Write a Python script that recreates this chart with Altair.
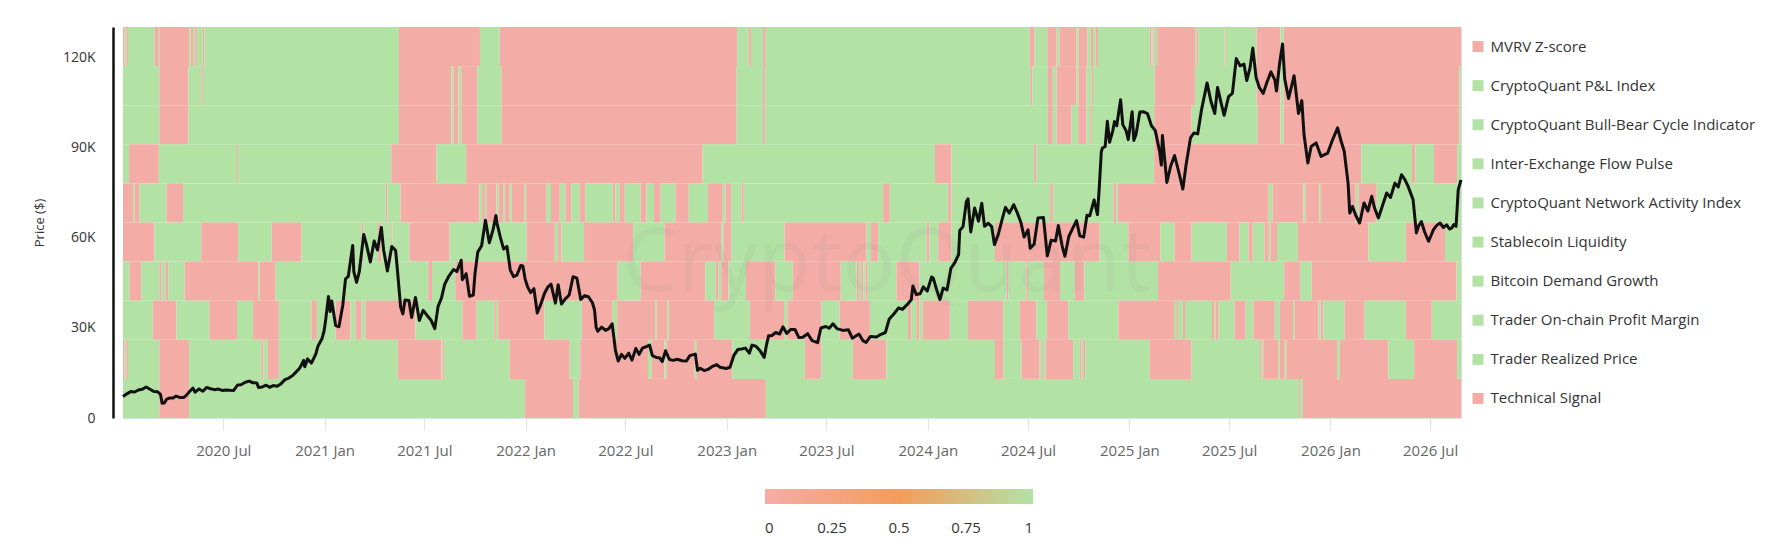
import altair as alt
import pandas as pd

# ---------------- data ----------------
DAY0 = "2020-01-01"          # first day of the series
END_DAY = 2429               # last day offset (2026-08-26)

ROWS = [
    "MVRV Z-score",
    "CryptoQuant P&L Index",
    "CryptoQuant Bull-Bear Cycle Indicator",
    "Inter-Exchange Flow Pulse",
    "CryptoQuant Network Activity Index",
    "Stablecoin Liquidity",
    "Bitcoin Demand Growth",
    "Trader On-chain Profit Margin",
    "Trader Realized Price",
    "Technical Signal",
]

# runs: (start day offset from DAY0, signal value 0=bearish / 1=bullish)
MVRV = [(0,0),(3,1),(6,0),(9,1),(57,0),(65,1),(67,0),(120,1),(123,0),(127,1),(130,0),(134,1),
        (145,0),(148,1),(501,0),(648,1),(684,0),(1115,1),(1136,0),(1140,1),(1162,0),(1167,1),
        (1646,0),(1655,1),(1678,0),(1695,1),(1700,0),(1731,1),(1735,0),(1751,1),(1757,0),(1761,1),
        (1766,0),(1770,1),(1864,0),(1867,1),(1869,0),(1871,1),(1875,0),(1877,1),(1879,0),(1946,1),
        (1949,0),(1952,1),(2000,0),(2002,1),(2058,0),(2101,1),(2107,0)]
PNL = [(0,1),(66,0),(119,1),(142,0),(145,1),(501,0),(596,1),(600,0),(609,1),(614,0),(643,1),(687,0),
       (1114,1),(1162,0),(1166,1),(1647,0),(1651,1),(1679,0),(1688,1),(1695,0),(1731,1),(1735,0),
       (1749,1),(1758,0),(1761,1),(1873,0),(1946,1),(2058,0),(2101,1),(2107,0),(2426,1)]
BULL_BEAR = [(0,1),(66,0),(119,1),(501,0),(596,1),(600,0),(609,1),(614,0),(643,1),(687,0),(1114,1),
             (1162,0),(1166,1),(1679,0),(1688,1),(1695,0),(1722,1),(1734,0),(1749,1),(1756,0),(1759,1),
             (1872,0),(1940,1),(2060,0),(2101,1),(2107,0),(2426,1)]
FLOW_PULSE = [(0,1),(11,0),(65,1),(207,0),(209,1),(487,0),(569,1),(623,0),(1052,1),(1474,0),(1504,1),
              (1654,0),(1658,1),(1872,0),(2248,1),(2340,0),(2346,1),(2380,0),(2422,1)]
NETWORK = [(0,0),(18,1),(21,0),(30,1),(79,0),(109,1),(477,0),(480,1),(504,0),(647,1),(652,0),(657,1),
           (660,0),(678,1),(682,0),(690,1),(693,0),(702,1),(706,0),(729,1),(732,0),(768,1),(777,0),
           (793,1),(803,0),(814,1),(829,0),(839,1),(889,0),(894,1),(902,0),(911,1),(940,0),(950,1),
           (964,0),(976,1),(1003,0),(1027,1),(1062,0),(1089,1),(1094,0),(1104,1),(1123,0),(1127,1),
           (1380,0),(1392,1),(1498,0),(1504,1),(1683,0),(1688,1),(1798,0),(1803,1),(1806,0),(2080,1),
           (2087,0),(2143,1),(2147,0),(2172,1),(2175,0),(2238,1),(2243,0),(2276,1)]
STABLECOIN = [(0,0),(57,1),(142,0),(209,1),(270,0),(324,1),(433,0),(436,1),(463,0),(469,1),(487,0),
              (489,1),(520,0),(593,1),(733,0),(784,1),(790,0),(796,1),(837,0),(926,1),(983,0),(1086,1),
              (1090,0),(1104,1),(1201,0),(1350,1),(1358,0),(1371,1),(1459,0),(1464,1),(1480,0),(1504,1),
              (1583,0),(1773,1),(1825,0),(1883,1),(1909,0),(1940,1),(2004,0),(2027,1),(2043,0),(2051,1),
              (2072,0),(2080,1),(2083,0),(2095,1),(2133,0),(2261,1),(2329,0),(2400,1)]
DEMAND = [(0,1),(12,0),(33,1),(66,0),(70,1),(77,0),(82,1),(112,0),(245,1),(248,0),(277,1),(554,0),
          (561,1),(603,0),(898,1),(940,0),(1057,1),(1076,0),(1081,1),(1086,0),(1099,1),(1131,0),
          (1184,1),(1216,0),(1303,1),(1332,0),(1336,1),(1340,0),(1344,1),(1348,0),(1352,1),(1404,0),
          (1446,1),(1604,0),(1607,1),(1640,0),(1643,1),(1672,0),(1701,1),(1728,0),(1745,1),(1879,0),
          (2011,1),(2108,0),(2137,1),(2158,0),(2421,1)]
PROFIT_MARGIN = [(0,1),(54,0),(97,1),(157,0),(207,1),(236,0),(283,1),(342,0),(352,1),(386,0),(413,1),
                 (422,0),(433,1),(440,0),(531,1),(616,0),(642,1),(674,0),(677,1),(681,0),(765,1),
                 (833,0),(888,1),(897,0),(966,1),(969,0),(988,1),(991,0),(1073,1),(1138,0),(1200,1),
                 (1206,0),(1268,1),(1301,0),(1356,1),(1425,0),(1431,1),(1440,0),(1446,1),(1452,0),
                 (1501,1),(1534,0),(1598,1),(1628,0),(1658,1),(1677,0),(1716,1),(1807,0),(1908,1),
                 (1912,0),(1915,1),(1924,0),(1928,1),(1977,0),(1981,1),(1983,0),(1989,1),(2018,0),
                 (2038,1),(2052,0),(2091,1),(2100,0),(2124,1),(2127,0),(2170,1),(2174,0),(2179,1),
                 (2218,0),(2254,1),(2329,0),(2376,1)]
REALIZED = [(0,0),(3,1),(6,0),(9,1),(66,0),(120,1),(251,0),(255,1),(263,0),(283,1),(499,0),(578,1),
            (580,0),(583,1),(702,0),(811,1),(830,0),(953,1),(960,0),(983,1),(987,0),(1038,1),(1042,0),
            (1106,1),(1238,0),(1268,1),(1325,0),(1386,1),(1583,0),(1598,1),(1631,0),(1664,1),(1668,0),
            (1670,1),(1675,0),(1725,1),(1737,0),(1740,1),(1743,0),(1747,1),(1864,0),(1940,1),(2064,0),
            (2067,1),(2070,0),(2097,1),(2100,0),(2109,1),(2112,0),(2204,1),(2209,0),(2297,1),(2344,0),
            (2422,1)]
TECHNICAL = [(0,1),(66,0),(120,1),(730,0),(817,1),(827,0),(1167,1),(2135,0),(2137,1),(2142,0)]

ALL_RUNS = [MVRV, PNL, BULL_BEAR, FLOW_PULSE, NETWORK, STABLECOIN, DEMAND, PROFIT_MARGIN, REALIZED, TECHNICAL]

PRICE_2020 = [("2020-01-01",7200),("2020-01-08",8050),("2020-01-15",8800),("2020-01-22",8650),("2020-01-29",9350),
    ("2020-02-05",9600),("2020-02-12",10350),("2020-02-19",9600),("2020-02-26",8800),("2020-03-04",8750),
    ("2020-03-09",7900),("2020-03-12",4950),("2020-03-16",5000),("2020-03-20",6200),("2020-03-26",6700),
    ("2020-04-01",6650),("2020-04-06",7300),("2020-04-13",6850),("2020-04-20",6850),("2020-04-25",7550),
    ("2020-04-30",8650),("2020-05-07",9950),("2020-05-11",8600),("2020-05-18",9700),("2020-05-25",8900),
    ("2020-06-01",10200),("2020-06-08",9750),("2020-06-15",9450),("2020-06-22",9650),("2020-06-29",9200),
    ("2020-07-06",9350),("2020-07-13",9250),("2020-07-20",9200),("2020-07-27",11000),("2020-08-02",11100),
    ("2020-08-10",11900),("2020-08-17",12300),("2020-08-24",11750),("2020-08-31",11700),("2020-09-03",10200),
    ("2020-09-10",10350),("2020-09-17",10950),("2020-09-23",10250),("2020-09-30",10800),("2020-10-07",10600),
    ("2020-10-14",11450),("2020-10-21",12800),("2020-10-28",13300),("2020-11-04",14150),("2020-11-10",15300),
    ("2020-11-17",16700),("2020-11-24",19200),("2020-11-26",17100),("2020-12-01",19700),("2020-12-08",18300),
    ("2020-12-16",21300),("2020-12-20",24000),("2020-12-27",26300),("2020-12-31",29000)]
PRICE_2021 = [("2021-01-03",32800),("2021-01-08",40500),("2021-01-11",35500),("2021-01-14",39000),("2021-01-21",30800),
    ("2021-01-27",30400),("2021-02-03",37600),("2021-02-08",46400),("2021-02-13",47200),("2021-02-21",57500),
    ("2021-02-23",48800),("2021-02-28",45200),("2021-03-05",48800),("2021-03-13",61200),("2021-03-18",57800),
    ("2021-03-25",52000),("2021-04-01",59000),("2021-04-07",56000),("2021-04-14",63500),("2021-04-18",56200),
    ("2021-04-25",49000),("2021-05-03",57200),("2021-05-10",55800),("2021-05-13",49700),("2021-05-19",37000),
    ("2021-05-23",34700),("2021-05-27",39300),("2021-06-03",39200),("2021-06-08",33500),("2021-06-15",40200),
    ("2021-06-22",32500),("2021-06-29",35900),("2021-07-06",34200),("2021-07-13",32700),("2021-07-20",29800),
    ("2021-07-26",37200),("2021-08-01",39900),("2021-08-07",44600),("2021-08-14",47100),("2021-08-23",49500),
    ("2021-08-29",48800),("2021-09-06",52600),("2021-09-08",46100),("2021-09-15",48100),("2021-09-21",40600),
    ("2021-09-28",41000),("2021-10-01",48100),("2021-10-06",55300),("2021-10-13",57400),("2021-10-20",65900),
    ("2021-10-27",58400),("2021-11-03",62900),("2021-11-08",67500),("2021-11-10",64900),("2021-11-16",60300),
    ("2021-11-22",56300),("2021-11-28",57200),("2021-12-04",49400),("2021-12-10",47100),("2021-12-16",47600),
    ("2021-12-23",50800),("2021-12-27",50700),("2021-12-31",46300)]
PRICE_2022 = [("2022-01-05",43500),("2022-01-10",41800),("2022-01-16",43100),("2022-01-22",35000),("2022-01-28",37700),
    ("2022-02-04",41500),("2022-02-10",43600),("2022-02-16",44600),("2022-02-24",38300),("2022-03-01",44400),
    ("2022-03-07",38000),("2022-03-14",39700),("2022-03-21",41000),("2022-03-28",47100),("2022-04-04",46600),
    ("2022-04-11",39500),("2022-04-18",40800),("2022-04-25",40400),("2022-05-02",38500),("2022-05-06",36000),
    ("2022-05-09",30100),("2022-05-12",28900),("2022-05-19",30300),("2022-05-26",29200),("2022-06-01",29800),
    ("2022-06-07",31400),("2022-06-13",22500),("2022-06-18",19000),("2022-06-24",21200),("2022-06-30",19900),
    ("2022-07-07",21600),("2022-07-13",19300),("2022-07-20",23200),("2022-07-26",21200),("2022-08-01",23300),
    ("2022-08-08",23800),("2022-08-14",24300),("2022-08-19",20800),("2022-08-26",20200),("2022-09-01",20100),
    ("2022-09-06",18800),("2022-09-12",22400),("2022-09-19",19500),("2022-09-26",19200),("2022-10-03",19600),
    ("2022-10-12",19100),("2022-10-20",19000),("2022-10-26",20800),("2022-11-05",21300),("2022-11-09",15900),
    ("2022-11-14",16600),("2022-11-21",15800),("2022-11-28",16200),("2022-12-05",17100),("2022-12-14",17800),
    ("2022-12-20",16900),("2022-12-31",16500)]
PRICE_2023 = [("2023-01-07",16900),("2023-01-14",20900),("2023-01-21",22800),("2023-01-28",23000),("2023-02-04",23300),
    ("2023-02-11",21600),("2023-02-16",24300),("2023-02-23",23900),("2023-03-03",22300),("2023-03-10",20200),
    ("2023-03-14",24200),("2023-03-18",27400),("2023-03-24",27500),("2023-03-31",28500),("2023-04-07",28000),
    ("2023-04-13",30400),("2023-04-20",28200),("2023-04-27",29500),("2023-05-05",29500),("2023-05-12",26800),
    ("2023-05-19",26900),("2023-05-28",28100),("2023-06-05",25800),("2023-06-15",25100),("2023-06-21",30000),
    ("2023-06-30",30500),("2023-07-06",29900),("2023-07-13",31400),("2023-07-20",29800),("2023-07-31",29200),
    ("2023-08-10",29400),("2023-08-17",26600),("2023-08-29",28000),("2023-09-05",25800),("2023-09-11",25200),
    ("2023-09-19",27200),("2023-09-30",27000),("2023-10-08",27900),("2023-10-16",28500),("2023-10-23",33000),
    ("2023-10-31",34600),("2023-11-09",36700),("2023-11-16",36200),("2023-11-24",37700),("2023-12-02",39400),
    ("2023-12-05",44000),("2023-12-11",41200),("2023-12-18",41400),("2023-12-24",43700),("2023-12-31",42300)]
PRICE_2024 = [("2024-01-08",47000),("2024-01-11",46600),("2024-01-17",42800),("2024-01-23",39500),("2024-01-29",43300),
    ("2024-02-05",42700),("2024-02-12",49900),("2024-02-19",51800),("2024-02-26",54500),("2024-02-28",62500),
    ("2024-03-05",63800),("2024-03-11",72100),("2024-03-14",73100),("2024-03-19",62000),("2024-03-26",70000),
    ("2024-04-02",65600),("2024-04-08",71600),("2024-04-13",63900),("2024-04-20",64900),("2024-04-26",63800),
    ("2024-05-01",57800),("2024-05-08",61200),("2024-05-15",66200),("2024-05-21",70200),("2024-05-28",68300),
    ("2024-06-05",71100),("2024-06-12",68200),("2024-06-18",65200),("2024-06-24",60300),("2024-07-01",62700),
    ("2024-07-05",56600),("2024-07-12",57900),("2024-07-19",66700),("2024-07-29",66800),("2024-08-05",54000),
    ("2024-08-12",59300),("2024-08-20",59000),("2024-08-25",64200),("2024-09-01",57300),("2024-09-06",53900),
    ("2024-09-13",60500),("2024-09-20",63200),("2024-09-27",65800),("2024-10-03",60700),("2024-10-10",60300),
    ("2024-10-16",67600),("2024-10-21",67400),("2024-10-29",72700),("2024-11-04",67800),("2024-11-07",75900),
    ("2024-11-11",88700),("2024-11-13",90000),("2024-11-18",90500),("2024-11-22",98900),("2024-11-26",91900),
    ("2024-12-02",95900),("2024-12-05",98800),("2024-12-09",97400),("2024-12-16",106100),("2024-12-20",97800),
    ("2024-12-26",95800),("2024-12-30",92800)]
PRICE_2025 = [("2025-01-06",102100),("2025-01-09",92500),("2025-01-13",94500),("2025-01-20",102000),("2025-01-27",102100),
    ("2025-02-03",101400),("2025-02-10",97400),("2025-02-17",95800),("2025-02-25",88700),("2025-02-28",84300),
    ("2025-03-02",94200),("2025-03-10",78500),("2025-03-17",84000),("2025-03-24",87500),("2025-03-31",82500),
    ("2025-04-08",76300),("2025-04-14",84500),("2025-04-22",93400),("2025-04-28",95000),("2025-05-05",94700),
    ("2025-05-12",102800),("2025-05-22",111700),("2025-05-29",105600),("2025-06-05",101500),("2025-06-10",110200),
    ("2025-06-17",104600),("2025-06-22",100900),("2025-06-30",107100),("2025-07-07",108200),("2025-07-14",119800),
    ("2025-07-21",117400),("2025-07-28",118000),("2025-08-02",112500),("2025-08-08",116700),("2025-08-13",123300),
    ("2025-08-19",113500),("2025-08-25",110100),("2025-09-01",108200),("2025-09-08",112100),("2025-09-15",115400),
    ("2025-09-22",112700),("2025-09-25",109000),("2025-10-01",118600),("2025-10-06",124700),("2025-10-10",113000),
    ("2025-10-17",106500),("2025-10-27",114100),("2025-11-04",101500),("2025-11-10",105800),("2025-11-14",94500),
    ("2025-11-21",85000),("2025-11-27",90500),("2025-12-06",91700),("2025-12-15",87200),("2025-12-27",88300)]
PRICE_2026 = [("2026-01-05",92800),("2026-01-14",96700),("2026-01-20",92500),("2026-01-26",88900),("2026-02-02",78300),
    ("2026-02-05",68300),("2026-02-10",70500),("2026-02-16",67500),("2026-02-23",65000),("2026-03-03",71700),
    ("2026-03-10",69000),("2026-03-17",73900),("2026-03-22",70000),("2026-03-29",66700),("2026-04-05",70500),
    ("2026-04-13",75000),("2026-04-20",73500),("2026-04-28",78300),("2026-05-04",77000),("2026-05-10",81100),
    ("2026-05-16",79500),("2026-05-22",77200),("2026-05-31",72800),("2026-06-06",61700),("2026-06-10",64000),
    ("2026-06-15",65500),("2026-06-21",62000),("2026-06-28",58900),("2026-07-03",61000),("2026-07-07",62800),
    ("2026-07-13",64200),("2026-07-19",65000),("2026-07-25",63500),("2026-07-31",64400),("2026-08-05",63000),
    ("2026-08-09",63300),("2026-08-13",64500),("2026-08-17",63900),("2026-08-21",76100),("2026-08-26",79400)]

PRICE_TICKS = [0, 30000, 60000, 90000, 120000]
PRICE_MAX = 130333
LEGEND_VALUES = [0, 0.25, 0.5, 0.75, 1]
WATERMARK = [{"date": "2023-10-19", "price": 51000, "text": "CryptoQuant"}]

# ---------------- tables ----------------
base = pd.Timestamp(DAY0)
cells = []
for name, runs in zip(ROWS, ALL_RUNS):
    for i, (d, v) in enumerate(runs):
        e = runs[i + 1][0] if i + 1 < len(runs) else END_DAY
        cells.append({
            "row": name,
            "start": (base + pd.Timedelta(days=d)).strftime("%Y-%m-%d"),
            "end": (base + pd.Timedelta(days=e)).strftime("%Y-%m-%d"),
            "value": v,
        })
cells = pd.DataFrame(cells)
latest = pd.DataFrame([{"row": n, "value": r[-1][1]} for n, r in zip(ROWS, ALL_RUNS)])
price = pd.DataFrame(PRICE_2020 + PRICE_2021 + PRICE_2022 + PRICE_2023 + PRICE_2024 + PRICE_2025 + PRICE_2026,
                     columns=["date", "price"])
mark_df = pd.DataFrame(WATERMARK)

# ---------------- scales / axes ----------------
W, H = 1338, 391
FONT = "Open Sans"

end_ts = base + pd.Timedelta(days=END_DAY)
x_scale = alt.Scale(type="utc", domain=[alt.DateTime(year=2020, month=1, date=1, utc=True),
                                        alt.DateTime(year=end_ts.year, month=end_ts.month, date=end_ts.day, utc=True)])
x_ticks = []
for y in range(2020, 2027):
    for m in (1, 7):
        if (y, m) >= (2020, 7):
            x_ticks.append(alt.DateTime(year=y, month=m, date=1, utc=True))
x_axis = alt.Axis(values=x_ticks, format="%Y %b", title=None, grid=False,
                  labelColor="#666666", labelFontSize=15, labelFont=FONT, labelPadding=13,
                  tickColor="#e3e3e3", tickSize=12, tickWidth=1.2,
                  domainColor="#e3e3e3", domainWidth=1.5)

color_scale = alt.Scale(domain=[0, 0.5, 1], range=["#f4ada6", "#f49c5c", "#b3e2a5"], interpolate="rgb")
color_legend = alt.Legend(orient="none", legendX=642, legendY=462, direction="horizontal",
                          gradientLength=268, gradientThickness=15, gradientStrokeWidth=0,
                          title=None, values=LEGEND_VALUES, format=".2~f",
                          labelFontSize=15, labelColor="#333333", labelFont=FONT, labelOffset=17)

row_scale = alt.Scale(domain=ROWS, paddingInner=0, paddingOuter=0)
price_scale = alt.Scale(domain=[0, PRICE_MAX], nice=False, zero=False)

heat = alt.Chart(cells).mark_rect().encode(
    x=alt.X("start:T", scale=x_scale, axis=x_axis),
    x2="end:T",
    y=alt.Y("row:N", scale=row_scale, sort=ROWS,
            axis=alt.Axis(orient="right", title=None, domain=False, ticks=False, labelPadding=29,
                          labelFontSize=15, labelColor="#333333", labelFont=FONT, labelLimit=400)),
    color=alt.Color("value:Q", scale=color_scale, legend=color_legend),
)

watermark = alt.Chart(mark_df).mark_text(fontSize=88, font=FONT, color="#808080", opacity=0.07,
                                         align="center", baseline="middle").encode(
    x=alt.X("date:T", scale=x_scale, axis=x_axis),
    y=alt.Y("price:Q", scale=price_scale, axis=None),
    text="text:N",
)

line = alt.Chart(price).mark_line(color="#111111", strokeWidth=3, strokeJoin="round").encode(
    x=alt.X("date:T", scale=x_scale, axis=x_axis),
    y=alt.Y("price:Q", scale=price_scale,
            axis=alt.Axis(orient="left", values=PRICE_TICKS, title="Price ($)",
                          labelExpr="datum.value == 0 ? '0' : format(datum.value / 1000, 'd') + 'K'",
                          labelFontSize=14, labelColor="#333333", labelFont=FONT, labelPadding=18,
                          titleFontSize=13, titleFontWeight="normal", titleColor="#333333", titleFont=FONT,
                          titlePadding=16, ticks=False, grid=False, offset=10,
                          domainColor="#111111", domainWidth=2.5)),
)

squares = alt.Chart(latest).mark_square(size=121, opacity=1).encode(
    x=alt.value(W + 17),
    y=alt.Y("row:N", scale=alt.Scale(domain=ROWS, type="point", padding=0.5), sort=ROWS, axis=None),
    color=alt.Color("value:Q", scale=color_scale, legend=color_legend),
)

chart = alt.layer(heat, watermark, line, squares).resolve_scale(y="independent").properties(
    width=W, height=H,
    autosize=alt.AutoSizeParams(type="none"),
    padding={"left": 115, "top": 19, "right": 300, "bottom": 120},
).configure_view(stroke=None).configure(background="white")

chart.save("out.html", embed_options={"renderer": "svg", "actions": False})
